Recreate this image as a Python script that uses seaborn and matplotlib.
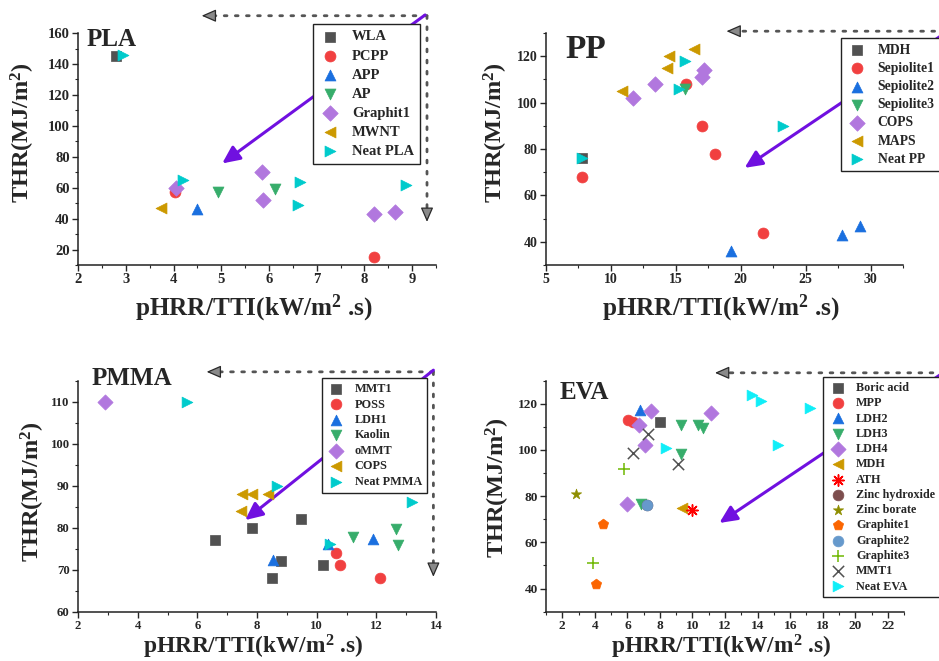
import numpy as np
import pandas as pd
import matplotlib
matplotlib.use("Agg")
import matplotlib.pyplot as plt
import seaborn as sns
from matplotlib.ticker import MultipleLocator

# PLA 面板数据
pla_names = ["WLA", "PCPP", "APP", "AP", "Graphit1", "MWNT", "Neat PLA"]
pla_x = [[2.8], [4.03, 8.2], [4.5], [4.93, 6.12],
         [4.05, 5.85, 5.87, 8.2, 8.63], [3.73], [2.95, 4.2, 6.65, 6.6, 8.87]]
pla_y = [[145], [57, 15], [46], [57, 59],
         [60, 70, 52, 43, 44], [47], [146, 65, 64, 49, 62]]

# PP 面板数据
pp_names = ["MDH", "Sepiolite1", "Sepiolite2", "Sepiolite3", "COPS", "MAPS", "Neat PP"]
pp_x = [[7.75], [7.8, 15.75, 17.05, 18.0, 21.75], [19.28, 27.8, 29.15], [15.7],
        [11.67, 13.38, 17.0, 17.18], [10.82, 14.28, 14.46, 16.4], [7.8, 15.25, 15.7, 23.25]]
pp_y = [[76], [68, 108, 90, 78, 44], [36, 43, 47], [106],
        [102, 108, 111, 114], [105, 115, 120, 123], [76, 106, 118, 90]]

# PMMA 面板数据
pmma_names = ["MMT1", "POSS", "LDH1", "Kaolin", "oMMT", "COPS", "Neat PMMA"]
pmma_x = [[6.59, 7.82, 9.48, 8.8, 8.51, 10.2], [10.65, 10.78, 12.12], [8.55, 10.39, 11.9],
          [11.21, 12.66, 12.74], [2.9], [7.5, 7.82, 8.36, 7.45], [5.66, 8.68, 10.45, 13.19]]
pmma_y = [[77, 80, 82, 72, 68, 71], [74, 71, 68], [72.3, 76.2, 77.2],
          [77.8, 79.8, 75.8], [110], [88, 88, 88, 84], [110, 90, 76, 86]]

# EVA 面板数据
eva_names = ["Boric acid", "MPP", "LDH2", "LDH3", "LDH4", "MDH", "ATH", "Zinc hydroxide",
             "Zinc borate", "Graphite1", "Graphite2", "Graphite3", "MMT1", "Neat EVA"]
eva_x = [[8.0], [6.06, 6.36], [6.78], [6.82, 9.28, 9.28, 10.32, 10.67],
         [7.43, 6.73, 7.08, 5.96, 11.12], [9.34], [10.0], [7.2], [2.84], [4.52, 4.07],
         [7.2], [5.79, 3.87], [6.36, 7.29, 9.13], [8.37, 13.64, 14.19, 15.28, 17.22]]
eva_y = [[112], [113, 112], [117.5], [76.5, 110.6, 98.4, 110.6, 109.5],
         [117, 110.9, 102, 76.8, 116], [74.9], [73.9], [76], [81], [68.1, 42.2],
         [76], [91.9, 51], [98.6, 106.7, 93.8], [101, 124, 121, 102, 118]]

# 样式（与数据分开）
base_colors = ["#515151", "#F14040", "#1A6FDF", "#37AD6B", "#B177DE", "#CC9900", "#00CBCC"]
base_markers = ["s", "o", "^", "v", "D", "<", ">"]
eva_colors = ["#515151", "#F14040", "#1A6FDF", "#37AD6B", "#B177DE", "#CC9900", "#FF0000",
              "#7D4E4E", "#8E8E00", "#FB6501", "#6699CC", "#6FB802", "#515151", "#10EEF8"]
eva_markers = ["s", "o", "^", "v", "D", "<", (8, 2, 0), "o", "*", "p", "o", "+", "x", ">"]

PURPLE = "#7010E0"

sns.set_theme(style="ticks")
plt.rcParams["font.family"] = ["Liberation Serif", "DejaVu Serif"]
plt.rcParams["font.weight"] = "bold"
plt.rcParams["axes.labelweight"] = "bold"
plt.rcParams["mathtext.fontset"] = "custom"
plt.rcParams["mathtext.rm"] = "Liberation Serif:bold"
plt.rcParams["mathtext.bf"] = "Liberation Serif:bold"
plt.rcParams["mathtext.default"] = "rm"


def to_frame(names, xs, ys):
    rows = []
    for n, xv, yv in zip(names, xs, ys):
        for a, b in zip(xv, yv):
            rows.append({"material": n, "ratio": a, "thr": b})
    return pd.DataFrame(rows)


def draw_points(ax, df, names, markers, colors, size):
    for n, m, c in zip(names, markers, colors):
        sub = df[df["material"] == n]
        filled = isinstance(m, str) and m not in ("x", "+")
        if filled:
            sns.scatterplot(data=sub, x="ratio", y="thr", marker=m, color=c, s=size,
                            edgecolor="face", linewidth=0.5, label=n, ax=ax, zorder=4)
        else:
            sns.scatterplot(data=sub, x="ratio", y="thr", marker=m, color=c, s=size * 1.1,
                            linewidth=1.1, label=n, ax=ax, zorder=4)


def style_axes(ax, xlim, ylim, xmaj, xmin, ymaj, ymin, ylab_pos, xlab_y, ticksize,
               xlab_size=18.2):
    ax.set_xlim(*xlim)
    ax.set_ylim(*ylim)
    ax.xaxis.set_major_locator(MultipleLocator(xmaj))
    ax.xaxis.set_minor_locator(MultipleLocator(xmin))
    ax.yaxis.set_major_locator(MultipleLocator(ymaj))
    ax.yaxis.set_minor_locator(MultipleLocator(ymin))
    sns.despine(ax=ax)
    for s in ["left", "bottom"]:
        ax.spines[s].set_linewidth(1.1)
        ax.spines[s].set_color("#222222")
    ax.tick_params(which="major", length=4, width=1.0, labelsize=ticksize, pad=2)
    ax.tick_params(which="minor", length=2.5, width=0.8)
    for lab in ax.get_xticklabels() + ax.get_yticklabels():
        lab.set_fontweight("bold")
    ax.set_xlabel("pHRR/TTI(kW/m$^{2}$ .s)", fontsize=xlab_size, fontweight="bold")
    ax.set_ylabel("THR(MJ/m$^{2}$)", fontsize=17.5, fontweight="bold")
    ax.yaxis.set_label_coords(*ylab_pos)
    ax.xaxis.set_label_coords(0.49, xlab_y)
    ax.grid(False)


def add_legend(ax, fig, anchor, fsize, spacing):
    leg = ax.legend(loc="upper left", bbox_to_anchor=anchor, bbox_transform=fig.transFigure,
                    fontsize=fsize, frameon=True, fancybox=False, framealpha=1,
                    borderpad=0.4, handlelength=1.6, handletextpad=0.7,
                    labelspacing=spacing, borderaxespad=0)
    leg.get_frame().set_edgecolor("#222222")
    leg.get_frame().set_linewidth(1.0)
    leg.set_zorder(10)
    for t in leg.get_texts():
        t.set_fontweight("bold")


def arrow(ax, start, end, dotted=False):
    if dotted:
        # 虚线部分
        ax.annotate("", xy=end, xytext=start, xycoords="data", annotation_clip=False,
                    arrowprops=dict(arrowstyle="-", color="#555555", lw=2.0,
                                    linestyle=(0, (1, 3)), shrinkA=0, shrinkB=3))
        # 箭头只画在末端一小段
        hx = end[0] + 0.04 * (start[0] - end[0])
        hy = end[1] + 0.04 * (start[1] - end[1])
        ax.annotate("", xy=end, xytext=(hx, hy), xycoords="data", annotation_clip=False,
                    arrowprops=dict(arrowstyle="-|>,head_length=0.8,head_width=0.35",
                                    lw=0.9, mutation_scale=11,
                                    shrinkA=0, shrinkB=0, facecolor="#8a8a8a",
                                    edgecolor="#2a2a2a"))
    else:
        ax.annotate("", xy=end, xytext=start, xycoords="data", annotation_clip=False,
                    arrowprops=dict(arrowstyle="-|>,head_length=0.75,head_width=0.35",
                                    color=PURPLE, lw=2.2, mutation_scale=14,
                                    shrinkA=0, shrinkB=0))


fig = plt.figure(figsize=(9.39, 6.61), dpi=100)
ax_pla = fig.add_axes([0.0831, 0.599, 0.3813, 0.351])
ax_pp = fig.add_axes([0.5815, 0.599, 0.3802, 0.351])
ax_pmma = fig.add_axes([0.0831, 0.0746, 0.3813, 0.3495])
ax_eva = fig.add_axes([0.5815, 0.0746, 0.3813, 0.3495])

# PLA
df_pla = to_frame(pla_names, pla_x, pla_y)
draw_points(ax_pla, df_pla, pla_names, base_markers, base_colors, 62)
style_axes(ax_pla, (2, 9.5), (10, 160), 1, 0.5, 20, 10, (-0.115, 0.57), -0.12, 10.5)
ax_pla.text(0.024, 1.02, "PLA", transform=ax_pla.transAxes, fontsize=18,
            fontweight="bold", va="top", ha="left")
arrow(ax_pla, (9.31, 171.2), (4.59, 171.2), dotted=True)
arrow(ax_pla, (9.31, 171.2), (9.31, 37.9), dotted=True)
arrow(ax_pla, (9.27, 171.7), (5.02, 75.7))
add_legend(ax_pla, fig, (0.333, 0.963), 10.5, 0.4)

# PP
df_pp = to_frame(pp_names, pp_x, pp_y)
draw_points(ax_pp, df_pp, pp_names, base_markers, base_colors, 62)
style_axes(ax_pp, (5, 32.5), (30, 130), 5, 2.5, 20, 10, (-0.10, 0.57), -0.12, 10)
ax_pp.text(0.053, 0.995, "PP", transform=ax_pp.transAxes, fontsize=24,
           fontweight="bold", va="top", ha="left")
arrow(ax_pp, (37.5, 130.8), (18.9, 130.8), dotted=True)
arrow(ax_pp, (36.7, 133.6), (20.3, 71.9))
add_legend(ax_pp, fig, (0.8956, 0.942), 9.8, 0.38)

# PMMA
df_pmma = to_frame(pmma_names, pmma_x, pmma_y)
draw_points(ax_pmma, df_pmma, pmma_names, base_markers, base_colors, 60)
style_axes(ax_pmma, (2, 14), (60, 115), 2, 1, 10, 5, (-0.087, 0.52), -0.09, 9.2,
           xlab_size=16.8)
ax_pmma.text(0.038, 1.06, "PMMA", transform=ax_pmma.transAxes, fontsize=18,
             fontweight="bold", va="top", ha="left")
arrow(ax_pmma, (13.91, 117.1), (6.31, 117.1), dotted=True)
arrow(ax_pmma, (13.91, 117.1), (13.91, 68.3), dotted=True)
arrow(ax_pmma, (13.91, 117.5), (7.6, 81.8))
add_legend(ax_pmma, fig, (0.3426, 0.4277), 8.8, 0.28)

# EVA
df_eva = to_frame(eva_names, eva_x, eva_y)
draw_points(ax_eva, df_eva, eva_names, eva_markers, eva_colors, 60)
style_axes(ax_eva, (1, 23), (30, 130), 2, 1, 20, 10, (-0.095, 0.535), -0.09, 9.6,
           xlab_size=16.8)
ax_eva.text(0.039, 1.0, "EVA", transform=ax_eva.transAxes, fontsize=18,
            fontweight="bold", va="top", ha="left")
arrow(ax_eva, (27.5, 133.4), (11.38, 133.4), dotted=True)
arrow(ax_eva, (26.5, 138.6), (11.65, 68.4))
add_legend(ax_eva, fig, (0.8768, 0.4292), 8.7, 0.27)

fig.savefig("out.png", dpi=100)
